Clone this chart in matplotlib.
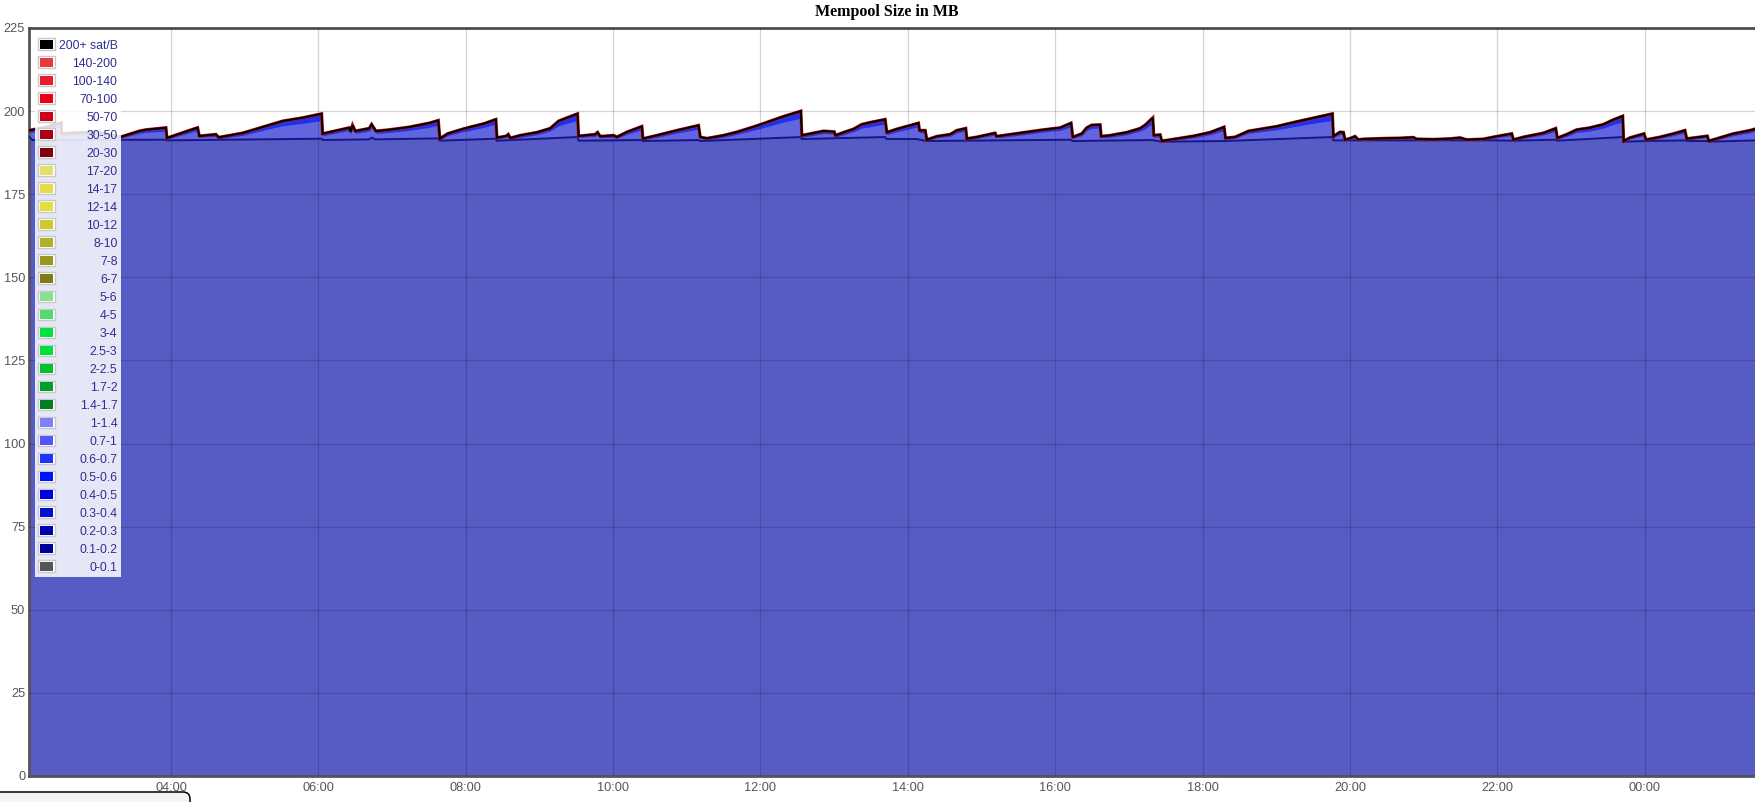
import numpy as np
import matplotlib
matplotlib.use("Agg")
import matplotlib.pyplot as plt
from matplotlib.patches import Rectangle, FancyBboxPatch

W, H = 1756, 802

# ---- data (hours of day, continuing past midnight as 24+) ----
t_hours = [2.077, 2.300, 2.511, 2.516, 2.665, 2.982, 3.162, 3.312, 3.570, 3.660,
           3.931, 3.945, 4.316, 4.361, 4.384, 4.610, 4.646, 4.972, 5.243, 5.514,
           5.786, 6.044, 6.057, 6.419, 6.437, 6.464, 6.500, 6.690, 6.722, 6.781,
           6.962, 7.233, 7.505, 7.627, 7.649, 7.753, 7.957, 8.061, 8.242, 8.409,
           8.423, 8.549, 8.577, 8.604, 8.739, 8.966, 9.146, 9.260, 9.373, 9.517,
           9.531, 9.757, 9.789, 9.825, 10.006, 10.051, 10.187, 10.390, 10.404, 10.594,
           10.865, 11.159, 11.182, 11.272, 11.498, 11.679, 11.951, 12.132, 12.312, 12.548,
           12.561, 12.719, 12.855, 13.000, 13.018, 13.127, 13.262, 13.375, 13.488, 13.692,
           13.714, 13.850, 14.031, 14.144, 14.158, 14.235, 14.257, 14.393, 14.574, 14.664,
           14.786, 14.800, 14.936, 15.184, 15.202, 15.388, 15.614, 15.840, 16.066, 16.215,
           16.238, 16.360, 16.428, 16.496, 16.609, 16.623, 16.745, 16.971, 17.152, 17.220,
           17.324, 17.337, 17.423, 17.446, 17.649, 17.875, 18.102, 18.291, 18.310, 18.441,
           18.622, 19.006, 19.232, 19.458, 19.761, 19.775, 19.865, 19.911, 19.933, 20.001,
           20.069, 20.114, 20.182, 20.453, 20.679, 20.860, 20.906, 21.132, 21.358, 21.494,
           21.584, 21.810, 21.991, 22.195, 22.217, 22.353, 22.624, 22.792, 22.814, 22.941,
           23.077, 23.257, 23.438, 23.574, 23.701, 23.714, 23.800, 23.990, 24.017, 24.207,
           24.388, 24.546, 24.569, 24.750, 24.850, 24.868, 25.021, 25.202, 25.428, 25.510]

total_mb = [194.2, 195.2, 196.5, 193.2, 193.4, 193.7, 193.0, 192.2, 194.0, 194.4,
            195.0, 191.9, 194.7, 195.0, 192.5, 193.0, 192.1, 193.4, 195.2, 197.0,
            198.0, 199.2, 193.2, 195.0, 193.8, 195.8, 194.0, 194.8, 196.0, 194.0,
            194.4, 195.2, 196.4, 197.2, 191.7, 193.2, 194.6, 195.2, 196.2, 197.5,
            192.0, 192.5, 193.0, 191.9, 192.7, 193.6, 194.8, 197.0, 198.0, 199.2,
            192.5, 193.0, 193.6, 192.4, 192.7, 192.2, 193.7, 195.4, 191.7, 192.7,
            194.2, 195.7, 192.2, 191.8, 192.7, 193.7, 195.6, 197.0, 198.4, 200.0,
            192.7, 193.4, 194.0, 193.8, 192.7, 193.6, 194.6, 196.0, 196.6, 197.5,
            193.6, 194.6, 195.7, 196.4, 194.2, 194.2, 191.4, 192.4, 193.0, 194.2,
            194.8, 191.7, 192.2, 193.4, 192.4, 193.0, 193.7, 194.4, 195.0, 196.4,
            192.2, 193.2, 195.0, 195.8, 195.9, 192.4, 192.7, 193.6, 194.8, 195.8,
            198.0, 192.7, 192.9, 191.0, 191.7, 192.5, 193.6, 195.2, 191.9, 192.2,
            194.0, 195.4, 196.6, 197.7, 199.2, 192.4, 193.7, 193.6, 191.4, 191.8,
            192.4, 191.4, 191.6, 191.8, 191.9, 192.1, 191.6, 191.5, 191.7, 192.0,
            191.4, 191.6, 192.4, 193.2, 191.4, 192.2, 193.4, 194.8, 191.9, 193.0,
            194.4, 195.0, 196.0, 197.4, 198.5, 191.0, 192.0, 193.2, 191.4, 192.2,
            193.2, 194.2, 191.7, 192.2, 192.5, 191.0, 192.0, 193.2, 194.2, 194.7]

# thickness of the bright blue fee band just under the top line
blue_band_mb = [0.7, 0.8, 1.1, 0.6, 0.6, 0.7, 0.6, 0.4, 0.7, 0.8,
                1.0, 0.4, 0.8, 1.0, 0.4, 0.6, 0.4, 0.7, 1.0, 1.4,
                1.7, 2.0, 0.6, 0.8, 0.7, 1.0, 0.7, 0.8, 1.0, 0.7,
                0.8, 1.0, 1.3, 1.4, 0.4, 0.6, 0.8, 1.0, 1.1, 1.4,
                0.4, 0.4, 0.6, 0.4, 0.6, 0.7, 0.8, 1.4, 1.7, 2.0,
                0.4, 0.6, 0.7, 0.4, 0.6, 0.4, 0.7, 1.0, 0.4, 0.6,
                0.8, 1.1, 0.4, 0.4, 0.6, 0.7, 1.1, 1.4, 1.7, 2.1,
                0.6, 0.7, 0.7, 0.7, 0.6, 0.7, 0.8, 1.1, 1.3, 1.4,
                0.7, 0.8, 1.0, 1.1, 0.7, 0.7, 0.3, 0.4, 0.6, 0.7,
                0.8, 0.4, 0.4, 0.6, 0.4, 0.6, 0.7, 0.7, 0.8, 1.1,
                0.4, 0.6, 0.8, 1.0, 1.0, 0.4, 0.6, 0.7, 0.8, 1.1,
                1.7, 0.6, 0.6, 0.3, 0.4, 0.6, 0.7, 1.0, 0.4, 0.4,
                0.7, 1.0, 1.3, 1.5, 2.0, 0.4, 0.7, 0.7, 0.3, 0.3,
                0.4, 0.3, 0.3, 0.3, 0.3, 0.3, 0.3, 0.3, 0.3, 0.3,
                0.3, 0.3, 0.4, 0.6, 0.3, 0.4, 0.6, 0.8, 0.4, 0.6,
                0.8, 1.0, 1.1, 1.4, 1.8, 0.3, 0.4, 0.6, 0.3, 0.4,
                0.6, 0.7, 0.4, 0.4, 0.4, 0.3, 0.4, 0.6, 0.7, 0.7]

# lowest (largest) fee tier boundary
base_t = [2.077, 2.120, 3.940, 3.950, 6.050, 6.060, 6.690, 6.720, 6.780, 7.630,
          7.650, 8.410, 8.420, 9.520, 9.530, 10.390, 10.400, 11.160, 11.180, 12.550,
          12.560, 13.690, 13.710, 14.120, 14.250, 16.200, 16.240, 17.320, 17.440, 18.300,
          19.760, 19.775, 21.990, 22.200, 22.800, 22.810, 23.700, 23.714, 24.000, 24.550,
          24.570, 24.860, 24.870, 25.510]
base_mb = [192.2, 191.3, 191.4, 191.2, 191.7, 191.3, 191.5, 192.0, 191.5, 191.8,
           191.1, 191.7, 191.1, 192.2, 191.1, 191.3, 191.0, 191.3, 191.0, 192.2,
           191.6, 192.2, 191.6, 191.6, 191.0, 191.4, 191.0, 191.3, 190.8, 191.0,
           192.2, 191.2, 191.2, 191.1, 191.4, 191.1, 192.2, 190.8, 191.0, 191.2,
           191.0, 191.0, 190.8, 191.2]

legend_labels = ["200+ sat/B", "140-200", "100-140", "70-100", "50-70", "30-50", "20-30",
                 "17-20", "14-17", "12-14", "10-12", "8-10", "7-8", "6-7", "5-6", "4-5",
                 "3-4", "2.5-3", "2-2.5", "1.7-2", "1.4-1.7", "1-1.4", "0.7-1", "0.6-0.7",
                 "0.5-0.6", "0.4-0.5", "0.3-0.4", "0.2-0.3", "0.1-0.2", "0-0.1"]
legend_colors = ["#000000", "#e8393f", "#e81c2b", "#e8001a", "#cc0018", "#a80014", "#80000c",
                 "#e3df6e", "#e3dc48", "#e3df3a", "#d0c830", "#b4ae28", "#9a9420", "#807a1c",
                 "#88e090", "#50dd6a", "#00e040", "#00e038", "#00c030", "#00a028", "#008020",
                 "#8080ff", "#5555ff", "#2233ff", "#0011ff", "#0000e8", "#0010d0", "#0000b0",
                 "#00009a", "#555555"]

ytick_vals = [0, 25, 50, 75, 100, 125, 150, 175, 200, 225]
xtick_vals = [4, 6, 8, 10, 12, 14, 16, 18, 20, 22, 24]
xtick_labels = ["04:00", "06:00", "08:00", "10:00", "12:00", "14:00", "16:00",
                "18:00", "20:00", "22:00", "00:00"]
x_range = (2.077, 25.51)
y_range = (0, 225)

# ---- figure ----
plt.rcParams['font.family'] = ['Liberation Sans', 'DejaVu Sans']
fig = plt.figure(figsize=(W / 100, H / 100), dpi=100)
ax_l, ax_r, ax_t, ax_b = 29.3, 1756.0, 28.0, 776.0
ax = fig.add_axes([ax_l / W, (H - ax_b) / H, (ax_r - ax_l) / W, (ax_b - ax_t) / H])

t = np.array(t_hours)
top = np.array(total_mb)
band = np.array(blue_band_mb)

ax.fill_between(t, 0, top, color="#6266de", lw=0, zorder=1.0)
ax.fill_between(t, top - band, top, color="#2030f0", lw=0, zorder=1.1)
ax.fill_between(base_t, 0, base_mb, color="#575bc4", lw=0, zorder=1.2)
ax.plot(base_t, base_mb, color="#16168a", lw=1.4, zorder=3.0)
ax.plot(t, top, color="#c81010", lw=2.3, zorder=3.1, solid_joinstyle='miter')
ax.plot(t, top, color="#000000", lw=1.5, zorder=3.2, solid_joinstyle='miter')

ax.set_xlim(*x_range)
ax.set_ylim(*y_range)
ax.set_xticks(xtick_vals)
ax.set_xticklabels(xtick_labels)
ax.set_yticks(ytick_vals)
ax.set_axisbelow(False)
ax.grid(True, color="black", alpha=0.17, lw=0.9)
ax.tick_params(axis='both', length=0, labelcolor="#555555", labelsize=9.2)
ax.tick_params(axis='y', pad=3)
ax.tick_params(axis='x', pad=4.5)
for s in ("left", "top", "bottom"):
    ax.spines[s].set_color("#555555")
    ax.spines[s].set_linewidth(2.0)
ax.spines["right"].set_visible(False)

# title
fig.text(887 / W, 1 - 11.5 / H, "Mempool Size in MB", ha="center", va="center",
         family=["Liberation Serif", "DejaVu Serif"], weight="bold", size=11.5, color="#000000")

# legend (drawn in pixel coordinates)
leg_left, leg_right, leg_top, leg_bottom = 35, 121, 31, 577
fig.add_artist(Rectangle((leg_left, H - leg_bottom), leg_right - leg_left, leg_bottom - leg_top,
                         transform=None, facecolor="white", alpha=0.86, edgecolor="none", zorder=5))
for i, (lab, col) in enumerate(zip(legend_labels, legend_colors)):
    yc = 44.3 + 18.0 * i
    fig.add_artist(Rectangle((38.3, H - yc - 5.8), 16.7, 11.6, transform=None,
                             facecolor="#ffffff", edgecolor="#c8c8c8", lw=1.0, zorder=6))
    fig.add_artist(Rectangle((40.2, H - yc - 4.4), 12.9, 8.8, transform=None,
                             facecolor=col, edgecolor="none", zorder=7))
    fig.text(117.5 / W, 1 - (yc + 4.4) / H, lab, ha="right", va="baseline",
             size=8.8, color="#2e2e8f", zorder=8)

# bottom-left rounded panel edge
fig.add_artist(FancyBboxPatch((-30, -30), 220, 40, boxstyle="round,pad=0,rounding_size=7",
                              transform=None, facecolor="#f4f4f4", edgecolor="#000000",
                              lw=1.1, zorder=9, clip_on=False))

fig.savefig("out.png", dpi=100)
